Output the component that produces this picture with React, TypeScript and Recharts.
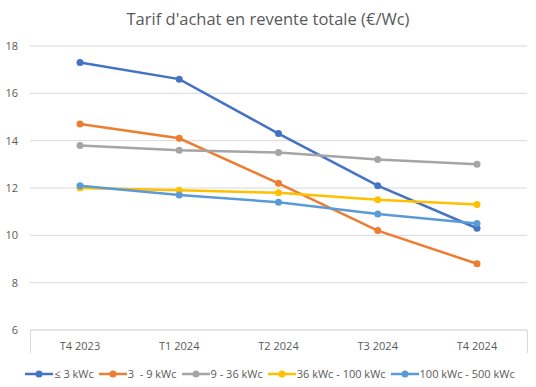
import { CartesianGrid, Line, LineChart, XAxis, YAxis } from "recharts";

const QUARTERS = ["T4 2023", "T1 2024", "T2 2024", "T3 2024", "T4 2024"];
const Y_TICKS = [6, 8, 10, 12, 14, 16, 18];

const upTo3 = [17.3, 16.6, 14.3, 12.1, 10.3];
const from3to9 = [14.7, 14.1, 12.2, 10.2, 8.8];
const from9to36 = [13.8, 13.6, 13.5, 13.2, 13.0];
const from36to100 = [12.0, 11.9, 11.8, 11.5, 11.3];
const from100to500 = [12.1, 11.7, 11.4, 10.9, 10.5];

const SERIES = [
  { key: "s1", label: "≤ 3 kWc", color: "#4472C4", values: upTo3 },
  { key: "s2", label: "3  - 9 kWc", color: "#ED7D31", values: from3to9 },
  { key: "s3", label: "9 - 36 kWc", color: "#A5A5A5", values: from9to36 },
  { key: "s4", label: "36 kWc - 100 kWc", color: "#FFC000", values: from36to100 },
  { key: "s5", label: "100 kWc - 500 kWc", color: "#5B9BD5", values: from100to500 },
];

const FONT = "'Open Sans', 'Liberation Sans', sans-serif";
const INK = "#595959";

export default function App() {
  const data = QUARTERS.map((q, i) => {
    const row: Record<string, string | number> = { name: q };
    SERIES.forEach((s) => (row[s.key] = s.values[i]));
    return row;
  });

  return (
    <div
      style={{
        position: "absolute",
        left: 0,
        top: 0,
        width: 536,
        height: 387,
        background: "#fff",
        fontFamily: FONT,
      }}
    >
      <div
        style={{
          position: "absolute",
          top: 7,
          width: 536,
          textAlign: "center",
          fontSize: 16.5,
          color: INK,
        }}
      >
        Tarif d'achat en revente totale (€/Wc)
      </div>
      <LineChart
        width={536}
        height={387}
        data={data}
        margin={{ top: 46, right: 9, bottom: 31, left: 0 }}
      >
        <CartesianGrid vertical={false} stroke="#d9d9d9" />
        <XAxis
          dataKey="name"
          height={26}
          padding={{ left: 50, right: 50 }}
          tickLine={false}
          axisLine={{ stroke: "#d9d9d9" }}
          tick={{ fontSize: 11, fill: INK, fontFamily: FONT }}
          tickMargin={6}
        />
        <YAxis
          width={30}
          domain={[6, 18]}
          ticks={Y_TICKS}
          tickLine={false}
          axisLine={false}
          tick={{ fontSize: 11, fill: INK, fontFamily: FONT }}
          tickMargin={6}
        />
        {SERIES.map((s) => (
          <Line
            key={s.key}
            dataKey={s.key}
            stroke={s.color}
            strokeWidth={2.5}
            dot={{ r: 3.5, fill: s.color, stroke: s.color, strokeWidth: 0 }}
            isAnimationActive={false}
          />
        ))}
      </LineChart>
      <div style={{ position: "absolute", left: 30, top: 330, width: 1, height: 23, background: "#d9d9d9" }} />
      <div style={{ position: "absolute", left: 527, top: 330, width: 1, height: 23, background: "#d9d9d9" }} />
      <div
        style={{
          position: "absolute",
          top: 366,
          left: 0,
          width: 540,
          display: "flex",
          justifyContent: "center",
          gap: 5,
          fontSize: 11,
          color: INK,
        }}
      >
        {SERIES.map((s) => (
          <div key={s.key} style={{ display: "flex", alignItems: "center", whiteSpace: "pre" }}>
            <svg width={28} height={10}>
              <line x1={0} y1={5} x2={28} y2={5} stroke={s.color} strokeWidth={2.5} />
              <circle cx={14} cy={5} r={3.5} fill={s.color} />
            </svg>
            <span style={{ marginLeft: 1 }}>{s.label}</span>
          </div>
        ))}
      </div>
    </div>
  );
}
